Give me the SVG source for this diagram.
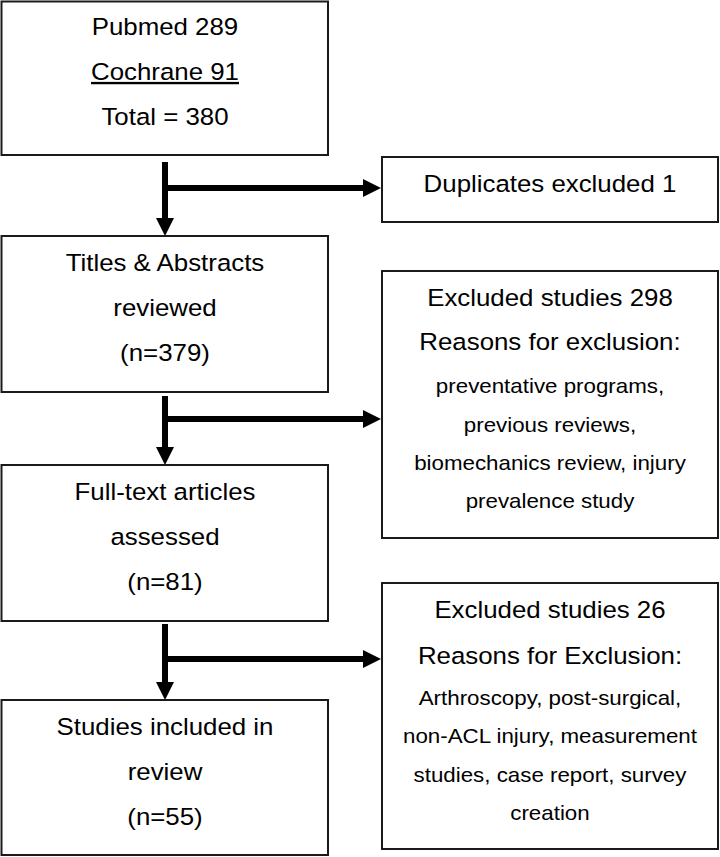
<svg xmlns="http://www.w3.org/2000/svg" width="720" height="857" viewBox="0 0 720 857">
<style>
.box{fill:#fff;stroke:#1a1a1a;stroke-width:2}
.t{font-family:"Liberation Sans",Arial,sans-serif;font-size:23.5px;fill:#000;text-anchor:middle}
.s{font-family:"Liberation Sans",Arial,sans-serif;font-size:20.3px;fill:#000;text-anchor:middle}
.c{fill:none;stroke:#000;stroke-width:6}
</style>
<defs>
<marker id="ah" markerUnits="userSpaceOnUse" markerWidth="18" markerHeight="18" refX="0" refY="9" orient="auto" viewBox="0 0 18 18">
<path d="M0,0 L18,9 L0,18 Z" fill="#000"/>
</marker>
</defs>
<rect width="720" height="857" fill="#fff"/>
<g id="connectors">
<path class="c" d="M165,162 V218" marker-end="url(#ah)"/>
<path class="c" d="M165,188 H363" marker-end="url(#ah)"/>
<path class="c" d="M165,396 V447" marker-end="url(#ah)"/>
<path class="c" d="M165,419 H363" marker-end="url(#ah)"/>
<path class="c" d="M165,624 V682" marker-end="url(#ah)"/>
<path class="c" d="M165,659 H363" marker-end="url(#ah)"/>
</g>
<g id="sources">
<rect class="box" x="1.5" y="1.5" width="326.5" height="153.5"/>
<g transform="scale(1.1,1)">
<text class="t" x="150" y="35">Pubmed 289</text>
<text class="t" x="150" y="80" text-decoration="underline">Cochrane 91</text>
<text class="t" x="150" y="125">Total = 380</text>
</g>
</g>
<g id="duplicates">
<rect class="box" x="382" y="157" width="336" height="65"/>
<g transform="scale(1.1,1)">
<text class="t" x="500" y="192">Duplicates excluded 1</text>
</g>
</g>
<g id="titles">
<rect class="box" x="1.5" y="236" width="326.5" height="156"/>
<g transform="scale(1.1,1)">
<text class="t" x="150" y="271">Titles &amp; Abstracts</text>
<text class="t" x="150" y="316">reviewed</text>
<text class="t" x="150" y="361">(n=379)</text>
</g>
</g>
<g id="excluded298">
<rect class="box" x="382" y="271" width="336" height="267"/>
<g transform="scale(1.1,1)">
<text class="t" x="500" y="306">Excluded studies 298</text>
<text class="t" x="500" y="350">Reasons for exclusion:</text>
<text class="s" x="500" y="393">preventative programs,</text>
<text class="s" x="500" y="432">previous reviews,</text>
<text class="s" x="500" y="470">biomechanics review, injury</text>
<text class="s" x="500" y="508">prevalence study</text>
</g>
</g>
<g id="fulltext">
<rect class="box" x="1.5" y="465" width="326.5" height="156"/>
<g transform="scale(1.1,1)">
<text class="t" x="150" y="500">Full-text articles</text>
<text class="t" x="150" y="545">assessed</text>
<text class="t" x="150" y="590">(n=81)</text>
</g>
</g>
<g id="excluded26">
<rect class="box" x="382" y="583" width="336" height="266"/>
<g transform="scale(1.1,1)">
<text class="t" x="500" y="618">Excluded studies 26</text>
<text class="t" x="500" y="664">Reasons for Exclusion:</text>
<text class="s" x="500" y="705">Arthroscopy, post-surgical,</text>
<text class="s" x="500" y="743">non-ACL injury, measurement</text>
<text class="s" x="500" y="782">studies, case report, survey</text>
<text class="s" x="500" y="820">creation</text>
</g>
</g>
<g id="included">
<rect class="box" x="1.5" y="700" width="326.5" height="155"/>
<g transform="scale(1.1,1)">
<text class="t" x="150" y="735">Studies included in</text>
<text class="t" x="150" y="780">review</text>
<text class="t" x="150" y="825">(n=55)</text>
</g>
</g>
</svg>
